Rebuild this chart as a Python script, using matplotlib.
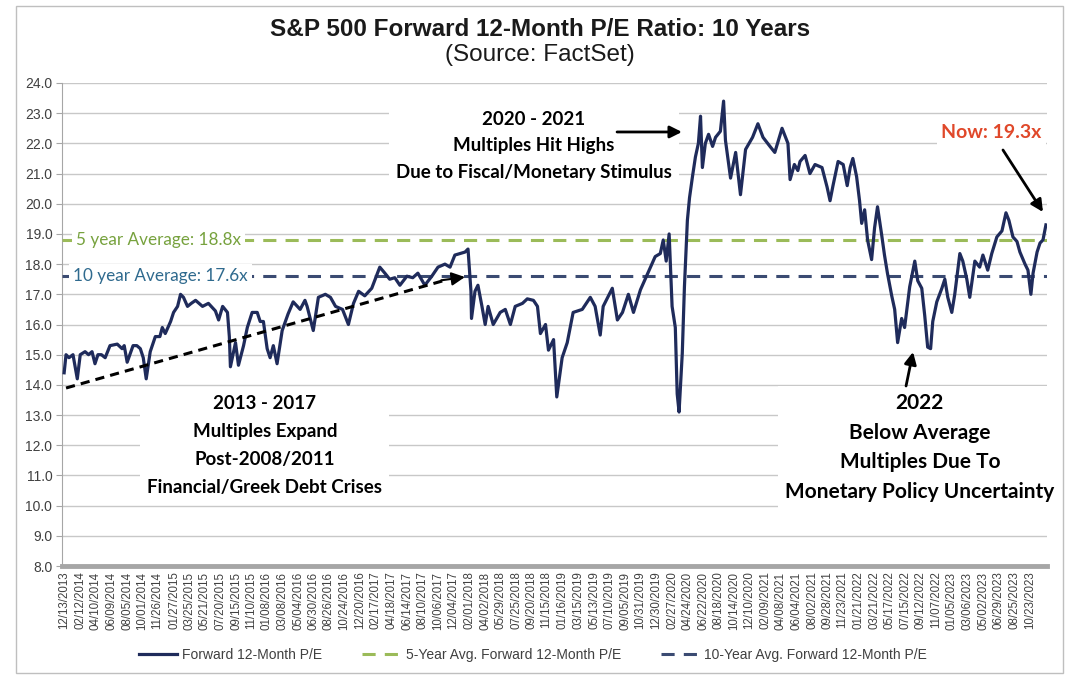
import matplotlib
matplotlib.use("Agg")
import matplotlib.pyplot as plt
from matplotlib.patches import Rectangle
import pandas as pd

# forward 12-month P/E
pe_dates = [
    "2013-12-13", "2013-12-20", "2013-12-31", "2014-01-15", "2014-01-31", "2014-02-11", "2014-03-01",
    "2014-03-14", "2014-03-27", "2014-04-07", "2014-04-18", "2014-05-01", "2014-05-15", "2014-06-02",
    "2014-06-29", "2014-07-17", "2014-07-25", "2014-08-05", "2014-08-27", "2014-09-10", "2014-09-23",
    "2014-10-04", "2014-10-15", "2014-10-30", "2014-11-18", "2014-12-05", "2014-12-14", "2014-12-25",
    "2015-01-14", "2015-01-25", "2015-02-09", "2015-02-20", "2015-03-03", "2015-03-18", "2015-04-01",
    "2015-04-17", "2015-05-13", "2015-06-04", "2015-06-30", "2015-07-12", "2015-07-27", "2015-08-14",
    "2015-08-21", "2015-08-25", "2015-09-13", "2015-09-24", "2015-10-13", "2015-10-27", "2015-11-14",
    "2015-12-03", "2015-12-14", "2015-12-26", "2016-01-09", "2016-01-20", "2016-02-01", "2016-02-15",
    "2016-03-05", "2016-03-27", "2016-04-15", "2016-05-11", "2016-05-29", "2016-06-06", "2016-06-29",
    "2016-07-18", "2016-08-13", "2016-09-01", "2016-09-20", "2016-10-16", "2016-11-07", "2016-11-26",
    "2016-12-15", "2017-01-07", "2017-02-02", "2017-03-04", "2017-03-23", "2017-04-10", "2017-04-29",
    "2017-05-18", "2017-06-13", "2017-07-05", "2017-07-24", "2017-08-19", "2017-09-14", "2017-10-07",
    "2017-11-02", "2017-11-21", "2017-12-09", "2017-12-28", "2018-01-16", "2018-01-27", "2018-02-07",
    "2018-02-09", "2018-02-22", "2018-03-05", "2018-03-20", "2018-04-01", "2018-04-12", "2018-05-01",
    "2018-05-27", "2018-06-15", "2018-07-04", "2018-07-22", "2018-08-18", "2018-09-05", "2018-09-28",
    "2018-10-13", "2018-10-24", "2018-11-12", "2018-11-23", "2018-12-12", "2018-12-24", "2019-01-13",
    "2019-02-01", "2019-02-23", "2019-03-29", "2019-04-28", "2019-05-16", "2019-06-04", "2019-06-15",
    "2019-07-19", "2019-08-07", "2019-08-26", "2019-09-17", "2019-10-06", "2019-11-01", "2019-12-01",
    "2019-12-26", "2020-01-14", "2020-01-25", "2020-02-05", "2020-02-16", "2020-02-27", "2020-03-10",
    "2020-03-17", "2020-03-24", "2020-04-05", "2020-04-13", "2020-04-24", "2020-05-02", "2020-05-13",
    "2020-05-24", "2020-06-04", "2020-06-12", "2020-06-19", "2020-06-30", "2020-07-12", "2020-07-27",
    "2020-08-07", "2020-08-25", "2020-09-06", "2020-09-13", "2020-10-02", "2020-10-21", "2020-11-08",
    "2020-11-27", "2020-12-23", "2021-01-12", "2021-01-31", "2021-02-26", "2021-03-16", "2021-04-12",
    "2021-05-04", "2021-05-12", "2021-05-28", "2021-06-10", "2021-06-18", "2021-07-07", "2021-07-25",
    "2021-08-13", "2021-09-08", "2021-09-27", "2021-10-08", "2021-10-19", "2021-11-07", "2021-11-26",
    "2021-12-11", "2021-12-22", "2022-01-01", "2022-01-15", "2022-01-26", "2022-02-03", "2022-02-14",
    "2022-02-25", "2022-03-12", "2022-03-23", "2022-04-03", "2022-04-18", "2022-04-29", "2022-05-10",
    "2022-05-26", "2022-06-06", "2022-06-17", "2022-07-02", "2022-07-13", "2022-08-01", "2022-08-20",
    "2022-08-31", "2022-09-15", "2022-09-26", "2022-10-07", "2022-10-18", "2022-10-26", "2022-11-10",
    "2022-11-29", "2022-12-10", "2022-12-21", "2023-01-05", "2023-01-16", "2023-02-04", "2023-02-15",
    "2023-03-02", "2023-03-13", "2023-04-01", "2023-04-19", "2023-05-01", "2023-05-19", "2023-06-03",
    "2023-06-22", "2023-07-11", "2023-07-26", "2023-08-06", "2023-08-21", "2023-09-05", "2023-09-16",
    "2023-10-05", "2023-10-16", "2023-10-27", "2023-11-04", "2023-11-19", "2023-11-30", "2023-12-11",
    "2023-12-22",
]
pe_values = [
    14.4, 15.0, 14.9, 15.0, 14.2, 15.0, 15.1,
    15.0, 15.1, 14.7, 15.0, 15.0, 14.9, 15.3,
    15.35, 15.2, 15.3, 14.75, 15.3, 15.3, 15.2,
    14.9, 14.2, 15.1, 15.6, 15.6, 15.9, 15.7,
    16.1, 16.4, 16.6, 17.0, 16.9, 16.6, 16.7,
    16.8, 16.6, 16.7, 16.45, 16.15, 16.6, 16.4,
    15.6, 14.6, 15.4, 14.65, 15.3, 15.9, 16.4,
    16.4, 16.1, 16.1, 15.2, 14.9, 15.3, 14.7,
    15.8, 16.35, 16.75, 16.5, 16.8, 16.6, 15.8,
    16.9, 17.0, 16.9, 16.6, 16.5, 16.0, 16.7,
    17.1, 16.95, 17.2, 17.9, 17.7, 17.5, 17.55,
    17.3, 17.6, 17.55, 17.7, 17.3, 17.6, 17.9,
    18.0, 17.9, 18.3, 18.35, 18.4, 18.5, 17.1,
    16.2, 17.1, 17.3, 16.6, 16.0, 16.6, 16.0,
    16.4, 16.5, 16.0, 16.6, 16.7, 16.85, 16.8,
    16.6, 15.7, 16.0, 15.15, 15.5, 13.6, 14.9,
    15.4, 16.4, 16.5, 16.9, 16.6, 15.65, 16.6,
    17.2, 16.15, 16.4, 17.0, 16.4, 17.15, 17.75,
    18.25, 18.35, 18.8, 18.1, 19.0, 16.6, 15.9,
    13.7, 13.1, 15.05, 17.25, 19.45, 20.2, 20.9,
    21.55, 22.0, 22.9, 21.2, 22.0, 22.3, 21.9,
    22.2, 22.4, 23.4, 22.1, 20.85, 21.7, 20.3,
    21.8, 22.2, 22.65, 22.2, 21.9, 21.7, 22.5,
    22.0, 20.8, 21.3, 21.1, 21.4, 21.6, 21.0,
    21.3, 21.2, 20.55, 20.1, 20.6, 21.4, 21.3,
    20.6, 21.2, 21.5, 20.9, 20.1, 19.35, 19.8,
    18.8, 18.15, 19.2, 19.9, 19.0, 18.3, 17.7,
    16.95, 16.5, 15.4, 16.2, 15.9, 17.25, 18.1,
    17.45, 17.2, 16.3, 15.25, 15.2, 16.1, 16.75,
    17.2, 17.5, 16.9, 16.4, 17.0, 18.35, 18.1,
    17.5, 16.9, 18.1, 17.9, 18.3, 17.8, 18.35,
    18.9, 19.1, 19.7, 19.45, 18.9, 18.75, 18.4,
    18.0, 17.8, 17.0, 17.7, 18.4, 18.7, 18.8,
    19.3,
]

avg_5yr = 18.8
avg_10yr = 17.6
now_value = 19.3

tick_labels = [
    "12/13/2013", "02/12/2014", "04/10/2014", "06/09/2014", "08/05/2014", "10/01/2014", "11/26/2014",
    "01/27/2015", "03/25/2015", "05/21/2015", "07/20/2015", "09/15/2015", "11/10/2015", "01/08/2016",
    "03/08/2016", "05/04/2016", "06/30/2016", "08/26/2016", "10/24/2016", "12/20/2016", "02/17/2017",
    "04/18/2017", "06/14/2017", "08/10/2017", "10/06/2017", "12/04/2017", "02/01/2018", "04/02/2018",
    "05/29/2018", "07/25/2018", "09/20/2018", "11/15/2018", "01/16/2019", "03/15/2019", "05/13/2019",
    "07/10/2019", "09/05/2019", "10/31/2019", "12/30/2019", "02/27/2020", "04/24/2020", "06/22/2020",
    "08/18/2020", "10/14/2020", "12/10/2020", "02/09/2021", "04/08/2021", "06/04/2021", "08/02/2021",
    "09/28/2021", "11/23/2021", "01/21/2022", "03/21/2022", "05/17/2022", "07/15/2022", "09/12/2022",
    "11/07/2022", "01/05/2023", "03/06/2023", "05/02/2023", "06/29/2023", "08/25/2023", "10/23/2023",
]

NAVY = "#1F2B5B"
GREEN = "#9BBB59"
DASH_NAVY = "#3B4B72"
GRID = "#C8C8C8"
TXT = "#404040"
ANN_FONT = "Lato"

x = pd.to_datetime(pe_dates)
ticks = pd.to_datetime(tick_labels, format="%m/%d/%Y")

fig = plt.figure(figsize=(10.79, 6.87), dpi=100)
ax = fig.add_axes([62 / 1079, 121 / 687, 985 / 1079, 483 / 687])

ax.plot(x, pe_values, color=NAVY, lw=2.3, zorder=6.5, label="Forward 12-Month P/E", solid_joinstyle="round")
ax.axhline(avg_5yr, color=GREEN, lw=2.2, ls=(0, (4.3, 3)), zorder=3, label="5-Year Avg. Forward 12-Month P/E")
ax.axhline(avg_10yr, color=DASH_NAVY, lw=2.2, ls=(0, (4.3, 3)), zorder=3, label="10-Year Avg. Forward 12-Month P/E")

ax.set_ylim(8, 24)
ax.set_yticks(range(8, 25))
ax.set_yticklabels([f"{v:.1f}" for v in range(8, 25)], fontsize=10, color=TXT, family="Liberation Sans")
ax.set_xlim(pd.Timestamp("2013-12-05"), pd.Timestamp("2023-12-26"))
ax.set_xticks(ticks)
ax.set_xticklabels(tick_labels, rotation=90, fontsize=8.3, color=TXT, family="Liberation Sans")
ax.tick_params(axis="x", length=0, pad=4)
ax.tick_params(axis="y", length=4, color="#A6A6A6", pad=3)
ax.grid(axis="y", color=GRID, lw=1)
ax.set_axisbelow(True)
for s in ("top", "right"):
    ax.spines[s].set_visible(False)
ax.spines["left"].set_color("#A6A6A6")
ax.spines["bottom"].set_color("#A6A6A6")
ax.spines["bottom"].set_linewidth(3.5)

box = dict(facecolor="white", edgecolor="none", pad=3)
yx = ax.get_yaxis_transform()
ax.text(0.014, avg_5yr, f"5 year Average: {avg_5yr}x", transform=yx, color="#77A23E", fontsize=12.3,
        family=ANN_FONT, va="center", ha="left", bbox=box, zorder=5)
ax.text(0.011, avg_10yr, f"10 year Average: {avg_10yr}x", transform=yx, color="#2F6A8E", fontsize=12.3,
        family=ANN_FONT, va="center", ha="left", bbox=box, zorder=5)

ann = dict(family=ANN_FONT, fontweight="bold", ha="center", va="center",
           transform=ax.transAxes, zorder=6)
white = dict(facecolor="white", edgecolor="none", pad=5)
ax.text(0.206, 0.2495, "2013 - 2017\nMultiples Expand\nPost-2008/2011\nFinancial/Greek Debt Crises",
        fontsize=13.5, linespacing=1.77, bbox=white, **ann)
ax.text(0.4792, 0.8696, "2020 - 2021\nMultiples Hit Highs\nDue to Fiscal/Monetary Stimulus",
        fontsize=13.5, linespacing=1.71, bbox=white, **ann)
ax.text(0.871, 0.2453, "2022\nBelow Average\nMultiples Due To\nMonetary Policy Uncertainty",
        fontsize=15, linespacing=1.6, bbox=white, **ann)
ax.text(0.9437, 0.8965, f"Now: {now_value}x", fontsize=14, color="#E0482A",
        bbox=dict(facecolor="white", edgecolor="none", pad=3), **ann)

arrow = dict(arrowstyle="-|>", color="black", lw=2, mutation_scale=18, shrinkA=0, shrinkB=0)
ax.annotate("", xy=(0.6294, 0.8986), xytext=(0.5635, 0.8986), xycoords="axes fraction",
            arrowprops=arrow, zorder=7)
ax.annotate("", xy=(0.9959, 0.7329), xytext=(0.9553, 0.8613), xycoords="axes fraction",
            arrowprops=arrow, zorder=7)
ax.annotate("", xy=(0.8640, 0.4431), xytext=(0.8569, 0.3727), xycoords="axes fraction",
            arrowprops=arrow, zorder=7)

# dashed trend arrow for 2013-2017
ax.plot([0.0041, 0.392], [0.3685, 0.5935], transform=ax.transAxes, color="black", lw=2.2,
        ls=(0, (3, 2)), zorder=7)
ax.annotate("", xy=(0.4091, 0.5983), xytext=(0.385, 0.5915), xycoords="axes fraction",
            arrowprops=dict(arrowstyle="-|>", color="black", lw=1.5, mutation_scale=20,
                            shrinkA=0, shrinkB=0), zorder=7)

fig.text(540 / 1079, 1 - 30 / 687, "S&P 500 Forward 12-Month P/E Ratio: 10 Years", ha="center", va="center",
         fontsize=17.5, fontweight="bold", family="Liberation Sans", color="#1A1A1A")
fig.text(540 / 1079, 1 - 55 / 687, "(Source: FactSet)", ha="center", va="center",
         fontsize=17.5, family="Liberation Sans", color="#1A1A1A")

leg = fig.legend(loc="center", bbox_to_anchor=(533 / 1079, 32 / 687), ncol=3, frameon=False,
                 prop={"family": "Liberation Sans", "size": 10}, handlelength=2.7,
                 handletextpad=0.4, columnspacing=2.9)
for t in leg.get_texts():
    t.set_color(TXT)

fig.patches.append(Rectangle((16 / 1079, 14 / 687), 1047 / 1079, 667 / 687, transform=fig.transFigure,
                             fill=False, edgecolor="#BFBFBF", lw=1))

fig.savefig("out.png", dpi=100)
